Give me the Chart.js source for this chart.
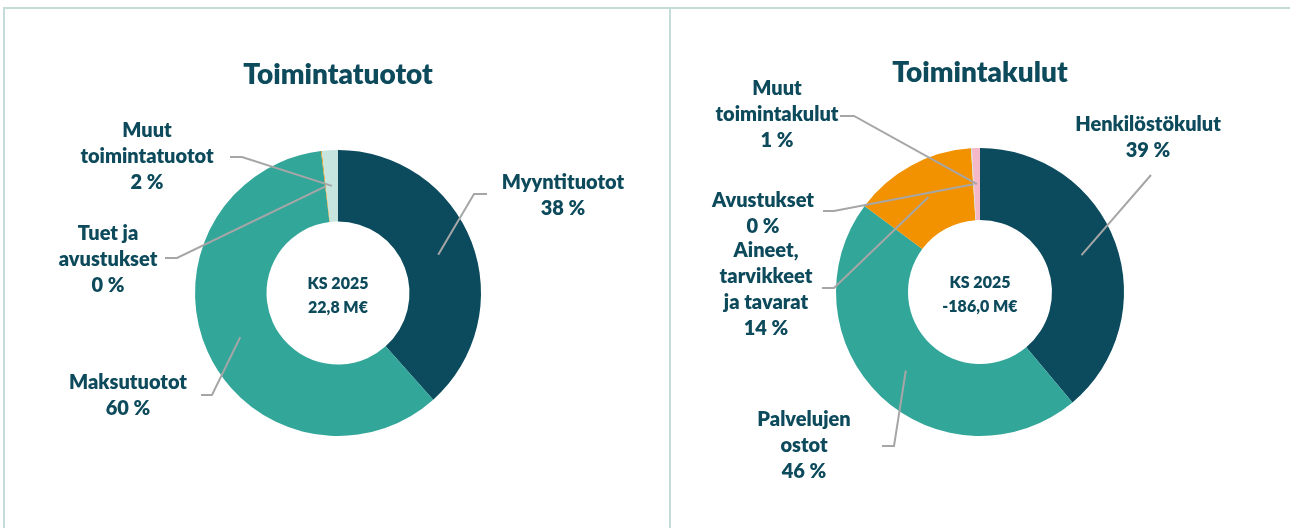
<!DOCTYPE html>
<html>
<head>
<meta charset="utf-8">
<script src="https://cdn.jsdelivr.net/npm/chart.js@4.4.0/dist/chart.umd.min.js"></script>
<style>
  body { margin: 0; width: 1290px; height: 528px; background: #fff; overflow: hidden; position: relative; }
  .line { position: absolute; background: #c4dbd7; }
  .box { position: absolute; top: 0; height: 528px; }
</style>
</head>
<body>
<div class="line" style="left:3px;top:7px;width:1287px;height:2px"></div>
<div class="line" style="left:3px;top:7px;width:2px;height:521px"></div>
<div class="line" style="left:669px;top:7px;width:2px;height:521px"></div>
<div class="box" style="left:0;width:669px"><canvas id="tuototChart" width="669" height="528"></canvas></div>
<div class="box" style="left:671px;width:619px"><canvas id="kulutChart" width="619" height="528"></canvas></div>
<script>
// --- data (osuudet %, luettu kuvasta) ---
const tuototLabels = [['Myyntituotot'], ['Maksutuotot'], ['Tuet ja', 'avustukset'], ['Muut', 'toimintatuotot']];
const tuototValues = [38.4, 59.7, 0.1, 1.8];
const tuototTitle = 'Toimintatuotot';
const tuototCenter = ['KS 2025', '22,8 M€'];

const kulutLabels = [['Henkilöstökulut'], ['Palvelujen', 'ostot'], ['Aineet,', 'tarvikkeet', 'ja tavarat'], ['Avustukset'], ['Muut', 'toimintakulut']];
const kulutValues = [38.9, 46.3, 13.8, 0.1, 0.9];
const kulutTitle = 'Toimintakulut';
const kulutCenter = ['KS 2025', '-186,0 M€'];

const tuototColors = ['#0b4b5d', '#33a69a', '#f39200', '#c5e5de'];
const kulutColors = ['#0b4b5d', '#33a69a', '#f39200', '#c5e5de', '#f5b8c8'];

const TEXT = '#0d4a5b';
const LEADER = '#a6a6a6';
const FONT = 'Lato, "Open Sans", sans-serif';

// label placement: text centre x, first line y, leader start + elbow
const tuototLayout = [
  { x: 563, y: 183, from: [487, 194], elbow: [474, 194] },
  { x: 128, y: 383, from: [201, 395], elbow: [212, 395] },
  { x: 108, y: 234, from: [165, 258], elbow: [177, 258] },
  { x: 147, y: 131, from: [230, 157], elbow: [242, 157] }
];
const kulutLayout = [
  { x: 477, y: 125, from: [480, 175], elbow: [480, 175] },
  { x: 133, y: 420, from: [211, 446], elbow: [223, 446] },
  { x: 95, y: 251, from: [151, 288], elbow: [163, 288] },
  { x: 92, y: 201, from: [152, 211], elbow: [163, 211] },
  { x: 106, y: 89, from: [169, 116], elbow: [183, 116] }
];

const labelPlugin = {
  id: 'donutLabels',
  afterDraw(chart, args, opts) {
    const ctx = chart.ctx;
    const meta = chart.getDatasetMeta(0);
    const values = chart.data.datasets[0].data;
    const arc0 = meta.data[0];

    ctx.save();
    ctx.fillStyle = TEXT;
    ctx.textAlign = 'center';
    ctx.textBaseline = 'middle';

    // title
    ctx.font = `800 28px ${FONT}`;
    ctx.fillText(opts.title, opts.titleX, opts.titleY);

    // centre text
    ctx.font = `800 16px ${FONT}`;
    ctx.fillText(opts.center[0], arc0.x, arc0.y - 9);
    ctx.fillText(opts.center[1], arc0.x, arc0.y + 15);

    // leaders + labels
    meta.data.forEach((arc, i) => {
      const lay = opts.layout[i];
      const p = arc.tooltipPosition();
      ctx.strokeStyle = LEADER;
      ctx.lineWidth = 2;
      ctx.beginPath();
      ctx.moveTo(lay.from[0], lay.from[1]);
      ctx.lineTo(lay.elbow[0], lay.elbow[1]);
      ctx.lineTo(p.x, p.y);
      ctx.stroke();

      const lines = chart.data.labels[i].concat([Math.round(values[i]) + ' %']);
      ctx.font = `800 20px ${FONT}`;
      lines.forEach((t, k) => ctx.fillText(t, lay.x, lay.y + k * 25.7));
    });
    ctx.restore();
  }
};

function makeDonut(id, labels, values, colors, padding, pluginOpts) {
  return new Chart(document.getElementById(id), {
    type: 'doughnut',
    data: {
      labels,
      datasets: [{ data: values, backgroundColor: colors, borderWidth: 0 }]
    },
    options: {
      responsive: false,
      animation: false,
      events: [],
      cutout: '50%',
      layout: { padding },
      plugins: {
        legend: { display: false },
        tooltip: { enabled: false },
        donutLabels: pluginOpts
      }
    },
    plugins: [labelPlugin]
  });
}

makeDonut('tuototChart', tuototLabels, tuototValues, tuototColors,
  { top: 150, bottom: 92, left: 195, right: 188 },
  { title: tuototTitle, titleX: 338, titleY: 75, center: tuototCenter, layout: tuototLayout });

makeDonut('kulutChart', kulutLabels, kulutValues, kulutColors,
  { top: 148, bottom: 92, left: 165, right: 166 },
  { title: kulutTitle, titleX: 309, titleY: 73, center: kulutCenter, layout: kulutLayout });
</script>
</body>
</html>
